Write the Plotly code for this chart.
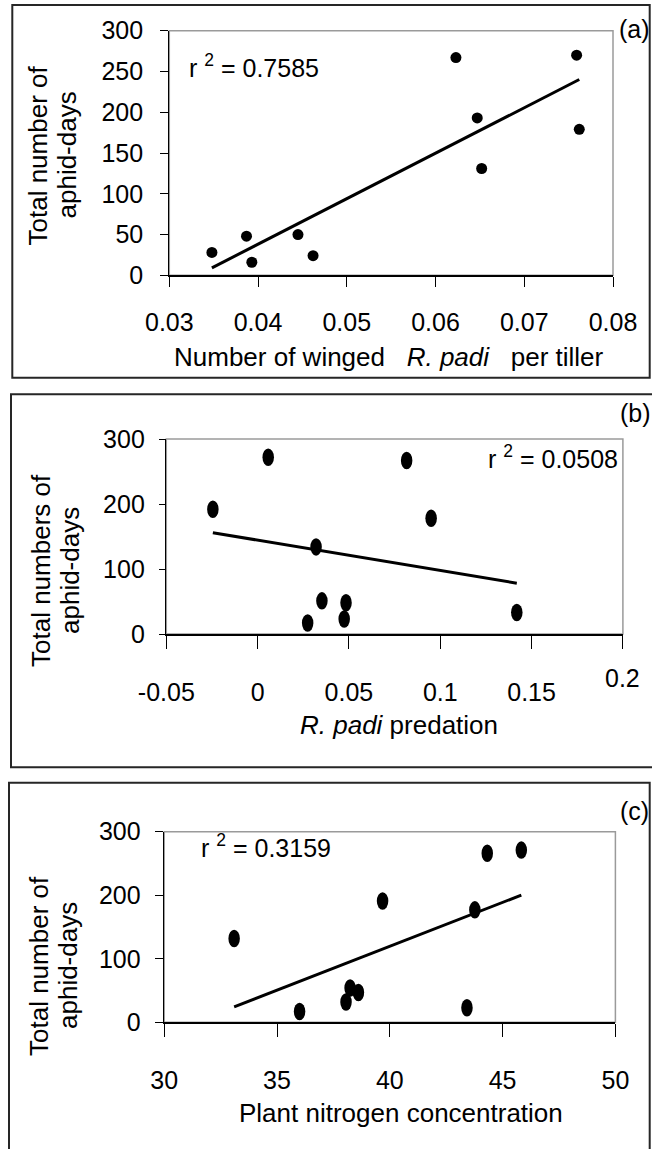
import numpy as np
import plotly.graph_objects as go

W, H = 652, 1149

# ---------------- data ----------------
winged_per_tiller = [0.0348, 0.0387, 0.0393, 0.0445, 0.0462, 0.0623, 0.0647, 0.0652, 0.0759, 0.0762]
aphid_days_a = [28, 48, 16, 50, 24, 267, 193, 131, 270, 179]

padi_predation = [-0.0245, 0.0058, 0.0320, 0.0352, 0.0274, 0.0484, 0.0474, 0.0816, 0.0950, 0.1419]
aphid_days_b = [192, 272, 134, 51, 17, 48, 23, 267, 178, 33]

plant_nitrogen = [33.1, 36.0, 38.06, 38.24, 38.61, 39.68, 43.42, 43.77, 44.32, 45.83]
aphid_days_c = [132, 17, 32, 54, 47, 191, 23, 177, 266, 271]

r2_labels = ["0.7585", "0.0508", "0.3159"]
panel_labels = ["(a)", "(b)", "(c)"]
xtick_a = [0.03, 0.04, 0.05, 0.06, 0.07, 0.08]
xtick_b = [-0.05, 0, 0.05, 0.1, 0.15]
xtick_b_raised = [0.2]
xtick_c = [30, 35, 40, 45, 50]
ytick_a = [0, 50, 100, 150, 200, 250, 300]
ytick_bc = [0, 100, 200, 300]

FONT = "Liberation Sans"


def px_x(p):
    return p / W


def px_y(p):
    return 1 - p / H


def trend(x, y):
    m, b = np.polyfit(np.array(x, float), np.array(y, float), 1)
    xs = np.array([min(x), max(x)])
    return xs, m * xs + b


fig = go.Figure()

# panel (a): circles
fig.add_trace(go.Scatter(x=winged_per_tiller, y=aphid_days_a, mode="markers",
                         marker=dict(color="black", size=11, symbol="circle", line=dict(width=0)),
                         xaxis="x", yaxis="y", showlegend=False))
tx, ty = trend(winged_per_tiller, aphid_days_a)
fig.add_trace(go.Scatter(x=tx, y=ty, mode="lines", line=dict(color="black", width=3),
                         xaxis="x", yaxis="y", showlegend=False))

# panel (b)
tx, ty = trend(padi_predation, aphid_days_b)
fig.add_trace(go.Scatter(x=tx, y=ty, mode="lines", line=dict(color="black", width=3),
                         xaxis="x2", yaxis="y2", showlegend=False))
# panel (c)
tx, ty = trend(plant_nitrogen, aphid_days_c)
fig.add_trace(go.Scatter(x=tx, y=ty, mode="lines", line=dict(color="black", width=3),
                         xaxis="x3", yaxis="y3", showlegend=False))

shapes = []
# elliptical markers for (b) and (c), anchored at data coordinates
for xs_, ys_, xr, yr in [(padi_predation, aphid_days_b, "x2", "y2"),
                         (plant_nitrogen, aphid_days_c, "x3", "y3")]:
    for xv, yv in zip(xs_, ys_):
        shapes.append(dict(type="circle", xref=xr, yref=yr,
                           xsizemode="pixel", ysizemode="pixel",
                           xanchor=xv, yanchor=yv,
                           x0=-5.75, x1=5.75, y0=-8.75, y1=8.75,
                           fillcolor="black", line=dict(width=0), layer="above"))

# gray plot-area borders
for xr, yr in [("x", "y"), ("x2", "y2"), ("x3", "y3")]:
    shapes.append(dict(type="rect", xref=f"{xr} domain", yref=f"{yr} domain",
                       x0=0, x1=1, y0=0, y1=1, line=dict(color="#9a9a9a", width=1.5),
                       layer="below"))

# outer panel boxes
boxes = [(12.3, 649.7, 5, 377.7), (11, 662, 394.3, 767.3), (9, 649.7, 782.7, 1160)]
for x0, x1, y0, y1 in boxes:
    shapes.append(dict(type="rect", xref="paper", yref="paper",
                       x0=px_x(x0), x1=px_x(x1), y0=px_y(y1), y1=px_y(y0),
                       line=dict(color="#262626", width=2), layer="below"))


def xax(domain, rng, tickvals, ticktext, anchor, ticklen, standoff, minor_vals=None):
    d = dict(domain=domain, range=rng, anchor=anchor, tickmode="array",
             tickvals=tickvals, ticktext=ticktext, automargin=False,
             showgrid=False, zeroline=False, showline=True, linecolor="black", linewidth=1.5,
             ticks="outside", ticklen=ticklen, tickwidth=1, tickcolor="black",
             ticklabelstandoff=standoff,
             tickfont=dict(family=FONT, size=25, color="black"), fixedrange=True)
    if minor_vals:
        d["minor"] = dict(tickmode="array", tickvals=minor_vals, ticks="outside",
                          ticklen=ticklen, tickwidth=1, tickcolor="black", showgrid=False)
    return d


def yax(domain, tickvals, anchor, ticklen, standoff):
    return dict(domain=domain, range=[0, 300], anchor=anchor, tickmode="array",
                tickvals=tickvals, automargin=False,
                showgrid=False, zeroline=False, showline=True, linecolor="black", linewidth=1.5,
                ticks="outside", ticklen=ticklen, tickwidth=1, tickcolor="black",
                ticklabelstandoff=standoff,
                tickfont=dict(family=FONT, size=25, color="black"), fixedrange=True)


layout = dict(
    width=W, height=H, autosize=False,
    margin=dict(l=0, r=0, t=0, b=0, pad=0, autoexpand=False),
    paper_bgcolor="white", plot_bgcolor="white",
    showlegend=False,
    xaxis=xax([px_x(169.3), px_x(613)], [0.03, 0.08], xtick_a,
              [f"{v:.2f}" for v in xtick_a], "y", 10, 14),
    yaxis=yax([px_y(275.3), px_y(30.7)], ytick_a, "x", 7.6, 12),
    xaxis2=xax([px_x(166.3), px_x(622.9)], [-0.05, 0.2], xtick_b,
               [f"{v:g}" for v in xtick_b], "y2", 13, 22, minor_vals=xtick_b_raised),
    yaxis2=yax([px_y(634), px_y(439)], ytick_bc, "x2", 6, 9),
    xaxis3=xax([px_x(164.2), px_x(615.4)], [30, 50], xtick_c,
               [str(v) for v in xtick_c], "y3", 13, 22),
    yaxis3=yax([px_y(1022.3), px_y(831.7)], ytick_bc, "x3", 8, 9),
    shapes=shapes,
)
fig.update_layout(**layout)

ann = []


def text(t, x, y, size=26, xanchor="center", yanchor="middle", angle=0, xref="paper"):
    ann.append(dict(text=t, x=x, y=y, xref=xref, yref="paper", xanchor=xanchor,
                    yanchor=yanchor, showarrow=False, textangle=angle,
                    font=dict(family=FONT, size=size, color="black")))


nb = "\u00a0"
# x titles
text(f"Number of winged {nb}{nb}<i>R. padi</i> {nb}{nb}per tiller", px_x(388.8), px_y(356.7))
text("<i>R. padi</i> predation", px_x(399), px_y(725))
text("Plant nitrogen concentration", px_x(401), px_y(1113.3))

# y titles (two lines each)
text("Total number of", px_x(37), px_y(155.5), angle=-90)
text("aphid-days", px_x(66), px_y(155.5), angle=-90)
text("Total numbers of", px_x(41), px_y(571), angle=-90)
text("aphid-days", px_x(70), px_y(571), angle=-90)
text("Total number of", px_x(39), px_y(966), angle=-90)
text("aphid-days", px_x(68), px_y(966), angle=-90)

# r^2 labels
text(f"r <sup>2</sup> = {r2_labels[0]}", px_x(186.7), px_y(66), size=25, xanchor="left")
text(f"r <sup>2</sup> = {r2_labels[1]}", px_x(619.5), px_y(457), size=25, xanchor="right")
text(f"r <sup>2</sup> = {r2_labels[2]}", px_x(198.8), px_y(846), size=25, xanchor="left")

# panel labels
text(panel_labels[0], px_x(634), px_y(29), size=25)
text(panel_labels[1], px_x(635), px_y(413.3), size=25)
text(panel_labels[2], px_x(634), px_y(810.8), size=25)

# raised "0.2" tick label of panel (b)
for v in xtick_b_raised:
    ann.append(dict(text=f"{v:g}", x=v, xref="x2", y=px_y(678.3), yref="paper",
                    xanchor="center", yanchor="middle", showarrow=False,
                    font=dict(family=FONT, size=25, color="black")))

fig.update_layout(annotations=ann)

fig.write_html("out.html",
               config={"displayModeBar": False, "staticPlot": True},
               post_script="document.body.style.margin='0px';"
                           "document.body.style.overflow='hidden';")
